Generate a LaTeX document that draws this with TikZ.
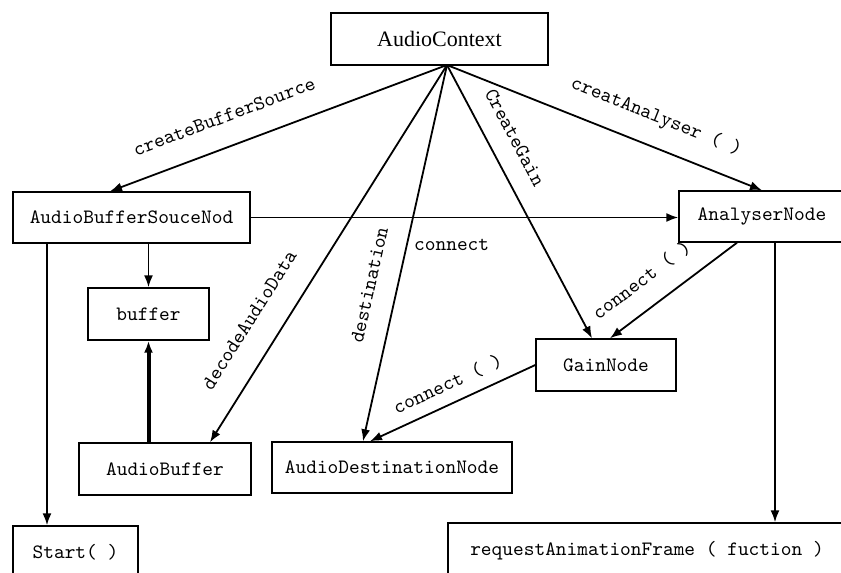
\documentclass[tikz,border=0pt]{standalone}
\usepackage{fontspec}
\newfontfamily\ctxfont{Liberation Serif}
\usetikzlibrary{arrows.meta}

\begin{document}
\begin{tikzpicture}[x=0.5pt,y=-0.5pt,
  box/.style={draw, line width=0.7pt, minimum height=26pt, inner sep=0pt, font=\ttfamily\fontsize{10.2}{12}\selectfont},
  link/.style={line width=0.9pt, -{Latex[length=6pt,width=4.5pt]}},
  lbl/.style={font=\ttfamily\fontsize{10.2}{12}\selectfont, sloped, above=2pt}]
\clip (0,0) rectangle (841,573);
% boxes
\node[box, minimum width=108.5pt, font=\ctxfont\fontsize{11}{12}\selectfont] (ctx) at (439.5,39) {AudioContext};
\node[box, minimum width=118.5pt, minimum height=25.5pt] (src) at (131.5,217.5) {AudioBufferSouceNod};
\node[box, minimum width=60.5pt] (buf) at (148.5,314) {buffer};
\node[box, minimum width=86pt] (abuf) at (165,469) {AudioBuffer};
\node[box, minimum width=62.5pt] (start) at (75.5,552) {Start( )};
\node[box, minimum width=120pt, minimum height=25.5pt] (dest) at (392,467.5) {AudioDestinationNode};
\node[box, minimum width=70pt] (gain) at (606,365) {GainNode};
\node[box, minimum width=83pt, minimum height=25.5pt] (ana) at (762,216.5) {AnalyserNode};
\node[box, minimum width=199pt, minimum height=28pt] (raf) at (647,551) {requestAnimationFrame ( fuction )};
\coordinate (ctxs) at (447,65);
% from the context
\draw[link] (ctxs) -- ([xshift=-10.75pt]src.north) node[lbl, above=6pt, pos=0.63] {createBufferSource};
\draw[link] (ctxs) -- ([xshift=22.5pt]abuf.north) node[lbl, above=7pt, pos=0.72] {decodeAudioData};
\draw[link] (ctxs) -- ([xshift=-14.5pt]dest.north) node[lbl, above=5pt, pos=0.6] {destination};
\draw[link] (ctxs) -- ([xshift=-7pt]gain.north) node[lbl, above=4pt, pos=0.31] {CreateGain};
\draw[link] (ctxs) -- (ana.north) node[lbl, above=4pt, pos=0.63] {creatAnalyser ( )};
% buffer source
\draw[link] (src.east) -- (src.east -| ana.west) node[lbl, below=9pt, pos=0.47] {connect};
\draw[link] (buf.north |- src.south) -- (buf.north);
\draw[link, line width=2pt] (buf.south |- abuf.north) -- (buf.south);
\draw[link] ([xshift=-42.25pt]src.south) -- ([xshift=-42.25pt]src.south |- start.north);
% analyser and gain
\draw[link] ([xshift=6.5pt]ana.south) -- ([xshift=6.5pt]ana.south |- raf.north);
\draw[link] ([xshift=-12.5pt]ana.south) -- ([xshift=2pt]gain.north) node[lbl, above=4pt, pos=0.62] {connect ( )};
\draw[link] (gain.west) -- ([xshift=-11pt]dest.north) node[lbl, pos=0.48] {connect ( )};
\end{tikzpicture}
\end{document}
